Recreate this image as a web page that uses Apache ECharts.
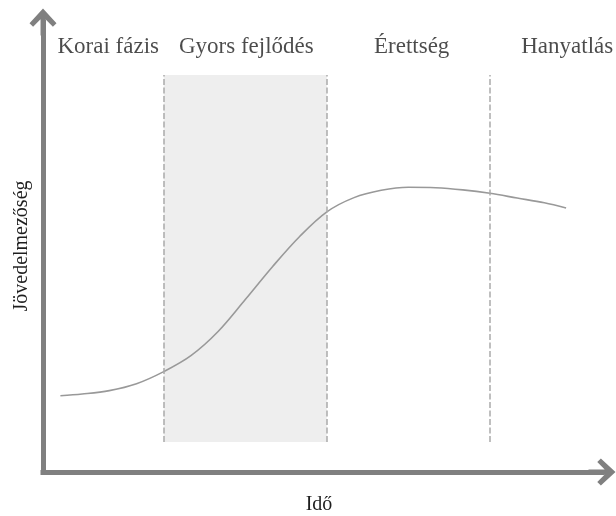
<!DOCTYPE html>
<html>
<head>
<meta charset="utf-8">
<script src="https://cdn.jsdelivr.net/npm/echarts@6/dist/echarts.min.js"></script>
<style>
  html, body { margin: 0; padding: 0; background: #fff; }
  #grafico { width: 616px; height: 516px; }
</style>
</head>
<body>
<div id="grafico"></div>
<script>
// dados do gráfico
var idoX = [1, 5, 10, 15, 20, 25, 30, 35, 40, 45, 50, 55, 60, 65, 70, 75, 80, 85, 90, 94];
var jovedelem = [15.7, 16.1, 16.9, 18.5, 21.3, 25.0, 30.6, 38.0, 45.6, 52.6, 58.3, 61.6, 63.3, 64.0, 63.9, 63.4, 62.6, 61.5, 60.4, 59.2];

// fases
var fazisHatarok = [20, 50, 80];
var gyorsSav = [20, 50];
var savAlsoFelso = [5, 90];
var fazisNevek = ["Korai fázis", "Gyors fejlődés", "Érettség", "Hanyatlás"];
var fazisNevX = [9.8, 35.2, 65.6, 94.2];
var fazisNevY = 96.5;

// nomes dos eixos
var nomeX = "Idő";
var nomeY = "Jövedelmezőség";

var nyil = "path://M12,0 L24,13 L20.8,16.2 L14.2,9.6 L14.2,24 L9.8,24 L9.8,9.6 L3.2,16.2 L0,13 Z";
var fonte = "'Liberation Serif', 'Times New Roman', serif";

var myChart = echarts.init(document.getElementById("grafico"));

let dadosLinha = idoX.map((x, i) => [x, jovedelem[i]]);
let dadosNomes = fazisNevek.map((n, i) => ({ name: n, value: [fazisNevX[i], fazisNevY] }));

let linhasFase = fazisHatarok.map(x => [
    { coord: [x, savAlsoFelso[0]] },
    { coord: [x, savAlsoFelso[1]] }
]);

let eixoLinha = {
    show: true,
    onZero: false,
    symbol: ["none", nyil],
    symbolSize: [27, 27],
    lineStyle: { color: "#808080", width: 5, cap: "square" }
};

let option = {
    animation: false,
    grid: { left: 43, right: 14, top: 22, bottom: 44, containLabel: false, outerBoundsMode: "none" },
    xAxis: {
        type: "value",
        min: -2.2,
        max: 100.6,
        axisLine: eixoLinha,
        axisTick: { show: false },
        axisLabel: { show: false },
        splitLine: { show: false }
    },
    yAxis: {
        type: "value",
        min: -1.95,
        max: 102.28,
        axisLine: eixoLinha,
        axisTick: { show: false },
        axisLabel: { show: false },
        splitLine: { show: false }
    },
    graphic: [
        {
            type: "text",
            x: 319,
            y: 505,
            style: { text: nomeX, font: "20px " + fonte, fill: "#1e1e1e", align: "center", verticalAlign: "middle" }
        },
        {
            type: "text",
            x: 22,
            y: 246,
            rotation: Math.PI / 2,
            style: { text: nomeY, font: "20px " + fonte, fill: "#1e1e1e", align: "center", verticalAlign: "middle" }
        }
    ],
    series: [
        {
            name: "jovedelem",
            type: "line",
            data: dadosLinha,
            smooth: 0.35,
            showSymbol: false,
            lineStyle: { color: "#999999", width: 1.6 },
            z: 3,
            markArea: {
                silent: true,
                itemStyle: { color: "#eeeeee" },
                data: [[
                    { coord: [gyorsSav[0], savAlsoFelso[0]] },
                    { coord: [gyorsSav[1], savAlsoFelso[1]] }
                ]]
            },
            markLine: {
                silent: true,
                symbol: "none",
                label: { show: false },
                lineStyle: { color: "#aaaaaa", width: 1.5, type: [6, 2.5] },
                data: linhasFase
            }
        },
        {
            name: "fazisok",
            type: "scatter",
            symbolSize: 0,
            data: dadosNomes,
            label: {
                show: true,
                position: "inside",
                formatter: p => p.name,
                fontFamily: fonte,
                fontSize: 23,
                color: "#1e1e1e"
            }
        }
    ]
};

myChart.setOption(option);
</script>
</body>
</html>
